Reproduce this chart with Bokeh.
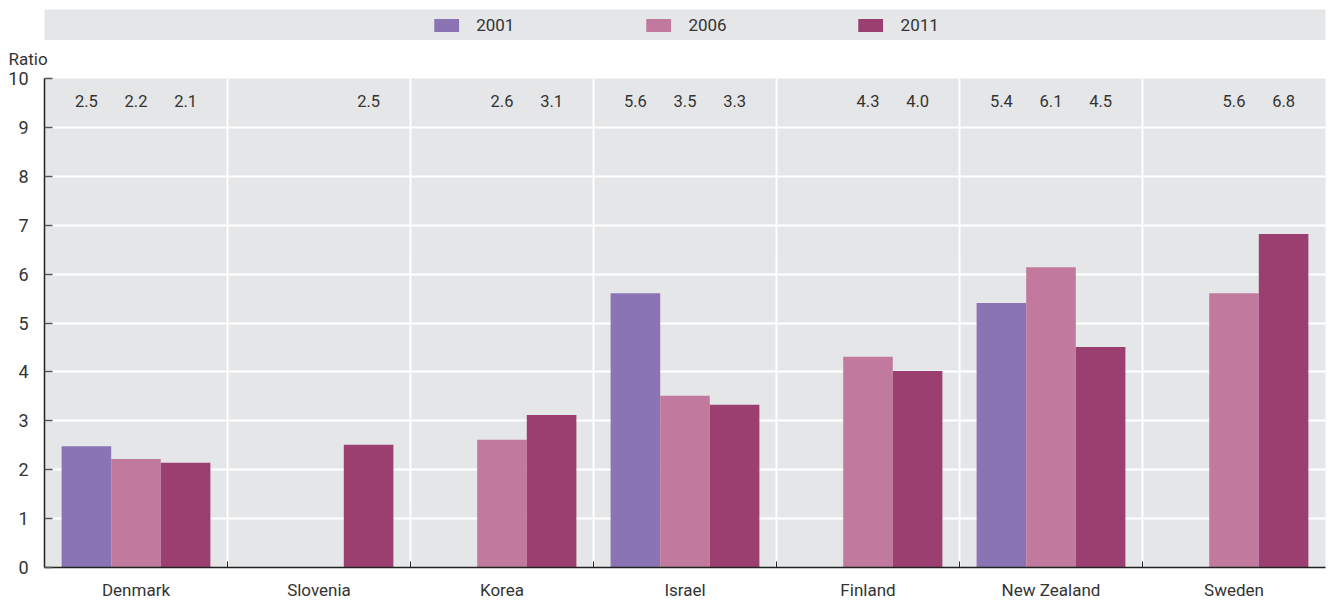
from bokeh.plotting import figure
from bokeh.models import (FactorRange, Range1d, FixedTicker, LinearAxis, CategoricalAxis,
                          ColumnDataSource, Legend, LegendItem, Grid)
from bokeh.transform import dodge
from bokeh.layouts import column
from bokeh.embed import file_html
from bokeh.resources import INLINE
from bokeh.core.properties import value

# ---- data ----
countries = ["Denmark", "Slovenia", "Korea", "Israel", "Finland", "New Zealand", "Sweden"]
years = ["2001", "2006", "2011"]
v2001 = [2.48, None, None, 5.61, None, 5.41, None]
v2006 = [2.22, None, 2.61, 3.51, 4.31, 6.14, 5.61]
v2011 = [2.14, 2.51, 3.12, 3.33, 4.02, 4.51, 6.82]
y_ticks = list(range(0, 11))

series = [v2001, v2006, v2011]
colors = ["#8A74B3", "#C17A9E", "#9B3F70"]
offsets = [-0.271, 0.0, 0.271]
FONT = "Roboto, sans-serif"
BG = "#E5E6E8"
TXT = "#333333"

sources = []
for vals in series:
    cs = [c for c, v in zip(countries, vals) if v is not None]
    vs = [v for v in vals if v is not None]
    sources.append(ColumnDataSource(dict(country=cs, val=vs, label=["%.1f" % v for v in vs])))

# ---- main chart ----
p = figure(width=1329, height=562, x_range=FactorRange(*countries), y_range=Range1d(0, 10),
           x_axis_type=None, y_axis_type=None, output_backend="svg", toolbar_location=None,
           min_border_left=44, min_border_right=4, min_border_top=38, min_border_bottom=34,
           background_fill_color=BG, outline_line_color=None, border_fill_color="white")

p.title.text = "Ratio"
p.title.align = "left"
p.title.offset = -36
p.title.text_font = FONT
p.title.text_font_size = "17px"
p.title.text_font_style = "normal"
p.title.text_color = TXT
p.title.standoff = 16
p.title.vertical_align = "top"

p.add_layout(Grid(dimension=0, ticker=FixedTicker(ticks=list(range(1, len(countries)))),
                  grid_line_color="white", grid_line_width=2))
p.add_layout(Grid(dimension=1, ticker=FixedTicker(ticks=y_ticks[1:-1]),
                  grid_line_color="white", grid_line_width=2))

yaxis = LinearAxis(ticker=FixedTicker(ticks=y_ticks), major_tick_in=8, major_tick_out=0,
                   minor_tick_line_color=None, axis_line_color="#222222", axis_line_width=1.5,
                   major_tick_line_color="#555555", major_tick_line_width=1.5,
                   major_label_text_font=FONT, major_label_text_font_size="18px",
                   major_label_text_color=TXT, major_label_standoff=16)
p.add_layout(yaxis, "left")

bounds = list(range(1, len(countries)))
xtick_axis = LinearAxis(ticker=FixedTicker(ticks=bounds),
                        major_label_overrides={b: "" for b in bounds},
                        major_tick_in=6, major_tick_out=0, major_label_text_font_size="1px",
                        major_label_standoff=0, minor_tick_line_color=None,
                        axis_line_color="#222222", axis_line_width=1.5,
                        major_tick_line_color="#222222")
p.add_layout(xtick_axis, "below")

xaxis = CategoricalAxis(axis_line_color=None, major_tick_line_color=None, major_tick_out=0,
                        major_tick_in=0,
                        major_label_text_font=FONT, major_label_text_font_size="17px",
                        major_label_text_color=TXT, major_label_standoff=12)
p.add_layout(xaxis, "below")

for src, col, off in zip(sources, colors, offsets):
    p.vbar(x=dodge("country", off, range=p.x_range), top="val", width=0.271, source=src,
           fill_color=col, line_color=None)
    p.text(x=dodge("country", off, range=p.x_range), y=9.53, text="label", source=src,
           text_align="center", text_baseline="middle", text_font=value(FONT),
           text_font_size=value("16.5px"), text_color=TXT)

# ---- legend band (same series, bars lie outside its visible y range) ----
t = figure(width=1329, height=40, x_axis_type=None, y_axis_type=None, title=None,
           output_backend="svg", toolbar_location=None,
           x_range=FactorRange(*countries), y_range=Range1d(100, 101),
           min_border_left=44, min_border_right=0, min_border_top=9, min_border_bottom=0,
           background_fill_color=BG, outline_line_color=None, border_fill_color="white")
items = []
for yr, src, col in zip(years, sources, colors):
    r = t.vbar(x="country", top="val", width=0.1, source=src, fill_color=col, line_color=None)
    items.append(LegendItem(label=yr, renderers=[r]))
legend = Legend(items=items, orientation="horizontal", location="center",
                background_fill_alpha=0, border_line_color=None, glyph_width=31, glyph_height=16,
                label_standoff=15, spacing=128, label_width=38, padding=0, margin=0,
                label_text_font=FONT, label_text_font_size="17px", label_text_color=TXT)
t.add_layout(legend, "center")

layout = column(t, p, spacing=0)
open("out.html", "w").write(file_html(layout, INLINE))
